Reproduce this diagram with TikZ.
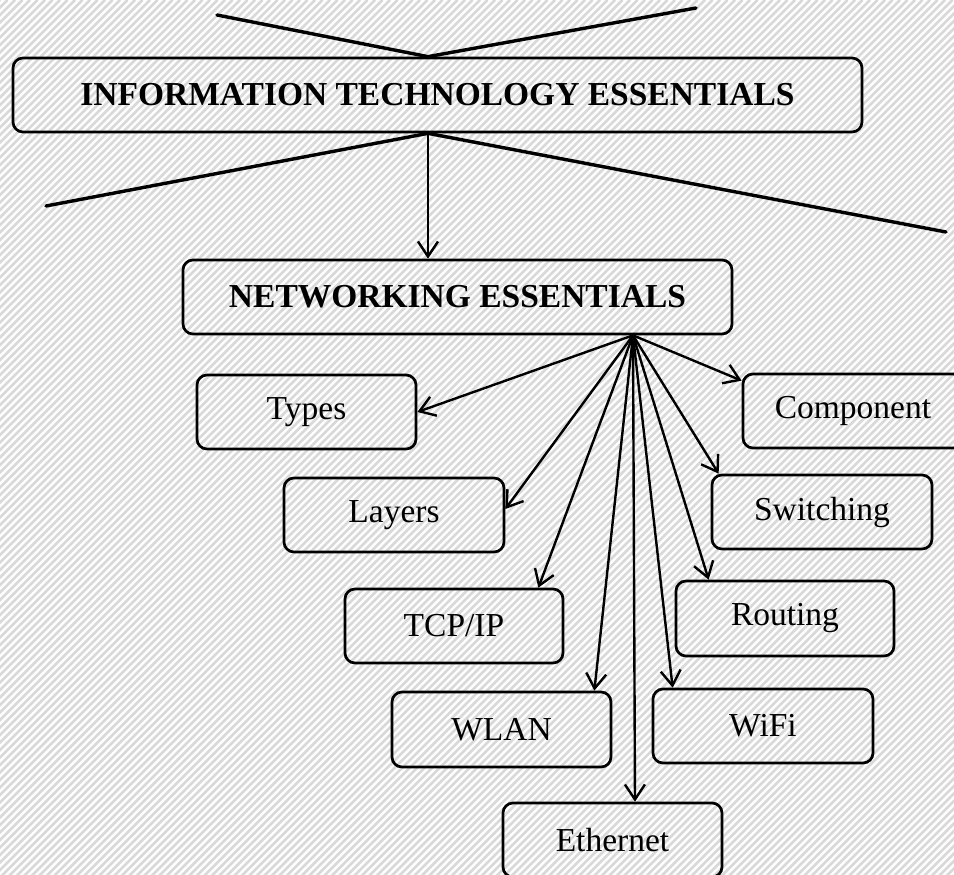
\documentclass[tikz,border=0pt]{standalone}
\usepackage{fontspec}
\setmainfont{Liberation Serif}
\usetikzlibrary{arrows.meta,calc}
\tikzset{
  box/.style={draw=black,line width=2.7pt,rounded corners=10pt,inner sep=0pt,
    font=\fontsize{33.5}{36}\selectfont,text=black},
  bigbox/.style={box,font=\fontsize{33.5}{36}\selectfont\bfseries},
  fanarrow/.style={line width=2.4pt,-{Straight Barb[length=15pt,width=20pt,line width=2.4pt]}},
  vline/.style={line width=3.4pt,line cap=round},
  stripe/.style={line width=2.5pt,draw=gray!30}
}
\begin{document}
\begin{tikzpicture}[x=1pt,y=-1pt]
\useasboundingbox (0,0) rectangle (954,875);
\clip (0,0) rectangle (954,875);
\fill[white] (0,0) rectangle (954,875);
\foreach \i in {-910,-902.5,...,960} {
  \draw[stripe] (\i,880) -- (\i+880,0);
}
% nodes
\node[bigbox,minimum width=849pt,minimum height=74pt] (it) at (437.5,95) {INFORMATION TECHNOLOGY ESSENTIALS};
\node[bigbox,minimum width=549pt,minimum height=74pt] (ne) at (457.5,297) {NETWORKING ESSENTIALS};
\node[box,minimum width=219pt,minimum height=74pt] (types) at (306.5,412) {Types};
\node[box,minimum width=220pt,minimum height=74pt] (layers) at (394,515) {Layers};
\node[box,minimum width=218pt,minimum height=74pt] (tcp) at (454,626) {TCP/IP};
\node[box,minimum width=219pt,minimum height=75pt] (wlan) at (501.5,729.5) {WLAN};
\node[box,minimum width=219pt,minimum height=74pt] (eth) at (612.5,840) {Ethernet};
\node[box,minimum width=220pt,minimum height=74pt] (wifi) at (763,726) {WiFi};
\node[box,minimum width=218pt,minimum height=75pt] (routing) at (785,618.5) {Routing};
\node[box,minimum width=220pt,minimum height=74pt] (switching) at (822,512) {Switching};
\node[box,minimum width=220pt,minimum height=74pt] (comp) at (853,411) {Component};
% free ends of the top lines
\coordinate (tl) at (217,15);
\coordinate (tr) at (696,8);
\coordinate (bl) at (46,206);
\coordinate (br) at (946,232);
\coordinate (itt) at ([xshift=-9.5pt]it.north);
\coordinate (itb) at ([xshift=-9.5pt]it.south);
\draw[vline] (tl) -- (itt) -- (tr);
\draw[vline] (bl) -- (itb) -- (br);
\draw[fanarrow] (itb) -- (itb |- ne.north);
% fan
\coordinate (fan) at ([xshift=175.5pt]ne.south);
\draw[fanarrow] (fan) -- (types.east);
\draw[fanarrow] (fan) -- ([yshift=6pt]layers.east);
\draw[fanarrow] (fan) -- ([xshift=-26pt]tcp.north east);
\draw[fanarrow] (fan) -- ([xshift=-18pt]wlan.north east);
\draw[fanarrow] (fan) -- ([xshift=22.5pt]eth.north);
\draw[fanarrow] (fan) -- ([xshift=21pt]wifi.north west);
\draw[fanarrow] (fan) -- ([xshift=34pt]routing.north west);
\draw[fanarrow] (fan) -- ([xshift=8pt]switching.north west);
\draw[fanarrow] (fan) -- ([yshift=-8pt]comp.north west);
\end{tikzpicture}
\end{document}
